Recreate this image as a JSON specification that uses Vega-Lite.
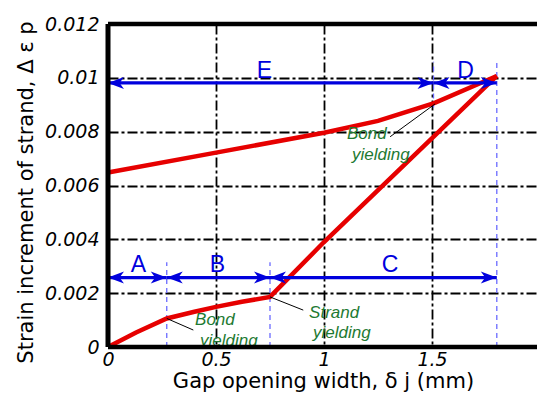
{
  "$schema": "https://vega.github.io/schema/vega-lite/v6.json",
  "width": 429,
  "height": 323,
  "autosize": {"type": "none"},
  "padding": {"left": 108, "top": 24, "right": 0, "bottom": 47},
  "background": "white",
  "config": {"view": {"stroke": null}},
  "datasets": {
    "curves": [
      {"s": "load", "i": 0, "x": 0, "y": 0},
      {"s": "load", "i": 1, "x": 0.13, "y": 0.00054},
      {"s": "load", "i": 2, "x": 0.272, "y": 0.00106},
      {"s": "load", "i": 3, "x": 0.4, "y": 0.00131},
      {"s": "load", "i": 4, "x": 0.5, "y": 0.00149},
      {"s": "load", "i": 5, "x": 0.62, "y": 0.00168},
      {"s": "load", "i": 6, "x": 0.75, "y": 0.00186},
      {"s": "load", "i": 7, "x": 1.0, "y": 0.0039},
      {"s": "load", "i": 8, "x": 1.8, "y": 0.01007},
      {"s": "unload", "i": 0, "x": 0, "y": 0.00648},
      {"s": "unload", "i": 1, "x": 0.5, "y": 0.00722},
      {"s": "unload", "i": 2, "x": 1.0, "y": 0.00796},
      {"s": "unload", "i": 3, "x": 1.25, "y": 0.0084},
      {"s": "unload", "i": 4, "x": 1.51, "y": 0.00906},
      {"s": "unload", "i": 5, "x": 1.8, "y": 0.01007}
    ],
    "vdash": [
      {"x": 0.272, "y": 0, "y2": 0.00315},
      {"x": 0.75, "y": 0, "y2": 0.00315},
      {"x": 1.8, "y": 0, "y2": 0.0106},
      {"x": 1.507, "y": 0.0089, "y2": 0.0106}
    ],
    "leaders": [
      {"x": 0.272, "y": 0.00106, "x2": 0.395, "y2": 0.00063},
      {"x": 0.75, "y": 0.00186, "x2": 0.904, "y2": 0.00137},
      {"x": 1.514, "y": 0.00903, "x2": 1.306, "y2": 0.00781}
    ],
    "shafts": [
      {"x": 0, "x2": 0.272, "y": 0.00258},
      {"x": 0.272, "x2": 0.75, "y": 0.00258},
      {"x": 0.75, "x2": 1.8, "y": 0.00258},
      {"x": 0, "x2": 1.507, "y": 0.00981},
      {"x": 1.507, "x2": 1.8, "y": 0.00981}
    ],
    "heads": [
      {"x": 0, "y": 0.00258, "dir": "L"},
      {"x": 0.272, "y": 0.00258, "dir": "R"},
      {"x": 0.272, "y": 0.00258, "dir": "L"},
      {"x": 0.75, "y": 0.00258, "dir": "R"},
      {"x": 0.75, "y": 0.00258, "dir": "L"},
      {"x": 1.8, "y": 0.00258, "dir": "R"},
      {"x": 0, "y": 0.00981, "dir": "L"},
      {"x": 1.507, "y": 0.00981, "dir": "R"},
      {"x": 1.507, "y": 0.00981, "dir": "L"},
      {"x": 1.8, "y": 0.00981, "dir": "R"}
    ],
    "letters": [
      {"t": "A", "x": 0.141, "y": 0.00304},
      {"t": "B", "x": 0.507, "y": 0.00304},
      {"t": "C", "x": 1.306, "y": 0.00304},
      {"t": "D", "x": 1.655, "y": 0.01026},
      {"t": "E", "x": 0.7245, "y": 0.01026}
    ],
    "notes": [
      {"t": "Bond", "x": 0.403, "y": 0.001},
      {"t": "yielding", "x": 0.426, "y": 0.00022},
      {"t": "Strand", "x": 0.931, "y": 0.00126},
      {"t": "yielding", "x": 0.949, "y": 0.00052},
      {"t": "Bond", "x": 1.106, "y": 0.00793},
      {"t": "yielding", "x": 1.13, "y": 0.00715}
    ],
    "frameH": [{"y": 0}, {"y": 0.012}],
    "frameV": [{"x": 0}]
  },
  "layer": [
    {
      "data": {"name": "vdash"},
      "mark": {"type": "rule", "color": "#6a6aff", "strokeWidth": 1.3, "strokeDash": [5, 4]},
      "encoding": {
        "x": {
          "field": "x", "type": "quantitative",
          "scale": {"domain": [0, 1.98611], "nice": false, "zero": false},
          "axis": {
            "values": [0, 0.5, 1, 1.5, 2],
            "format": "~f",
            "title": "Gap opening width, δ j (mm)",
            "titleFont": "DejaVu Sans", "titleFontSize": 21, "titleFontWeight": "normal", "titleColor": "black",
            "titleX": 215, "titleY": 40, "titleBaseline": "alphabetic", "titleAlign": "center", "titleAnchor": null,
            "labelFont": "DejaVu Sans", "labelFontSize": 19, "labelFontStyle": "italic", "labelColor": "black",
            "labelPadding": 3, "labelFlush": false, "labelOverlap": false, "labelBound": false,
            "ticks": false, "domain": false,
            "grid": true, "gridColor": "black", "gridWidth": 1.8, "gridDash": [10, 3, 3, 3], "gridOpacity": 1
          }
        },
        "y": {
          "field": "y", "type": "quantitative",
          "scale": {"domain": [0, 0.012], "nice": false},
          "axis": {
            "values": [0, 0.002, 0.004, 0.006, 0.008, 0.01, 0.012],
            "format": "~f",
            "title": "Strain increment of strand, Δ ε p",
            "titleFont": "DejaVu Sans", "titleFontSize": 21, "titleFontWeight": "normal", "titleColor": "black",
            "titleX": -82, "titleY": 168, "titleBaseline": "middle", "titleAlign": "center", "titleAngle": -90, "titleAnchor": null,
            "labelFont": "DejaVu Sans", "labelFontSize": 19, "labelFontStyle": "italic", "labelColor": "black",
            "labelPadding": 9, "labelOverlap": false, "labelBound": false, "labelFlush": false,
            "ticks": false, "domain": false,
            "grid": true, "gridColor": "black", "gridWidth": 1.8, "gridDash": [10, 3, 3, 3], "gridOpacity": 1
          }
        },
        "y2": {"field": "y2"}
      }
    },
    {
      "data": {"name": "curves"},
      "mark": {"type": "line", "color": "#e60000", "strokeWidth": 4.5},
      "encoding": {
        "x": {"field": "x", "type": "quantitative"},
        "y": {"field": "y", "type": "quantitative"},
        "detail": {"field": "s"},
        "order": {"field": "i", "type": "quantitative"}
      }
    },
    {
      "data": {"name": "leaders"},
      "mark": {"type": "rule", "color": "black", "strokeWidth": 1},
      "encoding": {
        "x": {"field": "x", "type": "quantitative"},
        "y": {"field": "y", "type": "quantitative"},
        "x2": {"field": "x2"},
        "y2": {"field": "y2"}
      }
    },
    {
      "data": {"name": "shafts"},
      "mark": {"type": "rule", "color": "#0000dd", "strokeWidth": 3.3},
      "encoding": {
        "x": {"field": "x", "type": "quantitative"},
        "x2": {"field": "x2"},
        "y": {"field": "y", "type": "quantitative"}
      }
    },
    {
      "data": {"name": "heads"},
      "mark": {"type": "point", "filled": true, "color": "#0000dd", "opacity": 1, "size": 256, "strokeWidth": 0},
      "encoding": {
        "x": {"field": "x", "type": "quantitative"},
        "y": {"field": "y", "type": "quantitative"},
        "shape": {
          "field": "dir", "type": "nominal", "legend": null,
          "scale": {"domain": ["L", "R"], "range": ["M0,0 L2,-0.75 L1.45,0 L2,0.75 Z", "M0,0 L-2,-0.75 L-1.45,0 L-2,0.75 Z"]}
        }
      }
    },
    {
      "data": {"name": "letters"},
      "mark": {"type": "text", "font": "Liberation Sans", "fontSize": 23, "color": "#0000dd", "align": "center", "baseline": "middle"},
      "encoding": {
        "x": {"field": "x", "type": "quantitative"},
        "y": {"field": "y", "type": "quantitative"},
        "text": {"field": "t"}
      }
    },
    {
      "data": {"name": "notes"},
      "mark": {"type": "text", "font": "Liberation Sans", "fontSize": 17, "fontStyle": "italic", "color": "#1e7a32", "align": "left", "baseline": "middle"},
      "encoding": {
        "x": {"field": "x", "type": "quantitative"},
        "y": {"field": "y", "type": "quantitative"},
        "text": {"field": "t"}
      }
    },
    {
      "data": {"name": "frameH"},
      "mark": {"type": "rule", "color": "black", "strokeWidth": 4.5},
      "encoding": {
        "y": {"field": "y", "type": "quantitative"}
      }
    },
    {
      "data": {"name": "frameV"},
      "mark": {"type": "rule", "color": "black", "strokeWidth": 5},
      "encoding": {
        "x": {"field": "x", "type": "quantitative"}
      }
    }
  ]
}
